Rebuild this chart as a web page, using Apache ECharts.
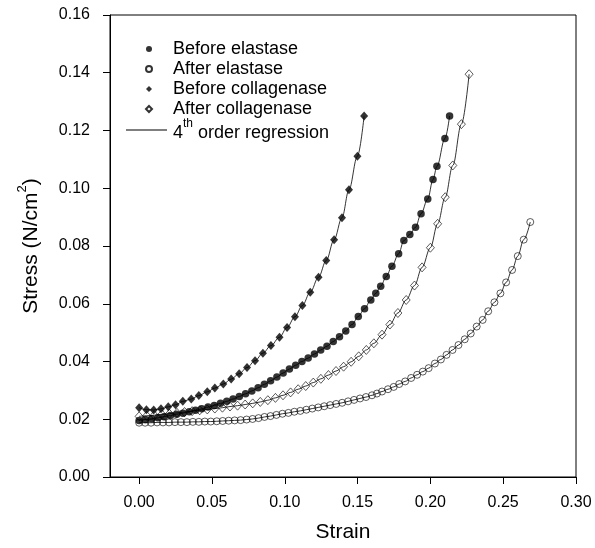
<!DOCTYPE html>
<html>
<head>
<meta charset="utf-8">
<script src="https://cdn.jsdelivr.net/npm/echarts@6/dist/echarts.min.js"></script>
<style>html,body{margin:0;padding:0;background:#fff}#c{width:595px;height:548px}</style>
</head>
<body>
<div id="c"></div>
<script>
// Strain / stress readings
const beforeElastase = [
[0.0000,0.0196],[0.0043,0.0199],[0.0086,0.0202],[0.0129,0.0205],[0.0172,0.0209],[0.0215,0.0213],
[0.0258,0.0217],[0.0301,0.0221],[0.0344,0.0226],[0.0387,0.0231],[0.0430,0.0236],[0.0473,0.0242],
[0.0516,0.0248],[0.0559,0.0255],[0.0602,0.0262],[0.0645,0.0270],[0.0688,0.0279],[0.0731,0.0288],
[0.0774,0.0298],[0.0817,0.0309],[0.0860,0.0321],[0.0903,0.0333],[0.0946,0.0346],[0.0989,0.0360],
[0.1032,0.0374],[0.1075,0.0387],[0.1118,0.0400],[0.1161,0.0412],[0.1204,0.0426],[0.1247,0.0440],
[0.1290,0.0453],[0.1333,0.0469],[0.1376,0.0486],[0.1419,0.0506],[0.1462,0.0528],[0.1505,0.0556],
[0.1548,0.0583],[0.1591,0.0613],[0.1625,0.0636],[0.1659,0.0661],[0.1697,0.0694],[0.1736,0.0730],
[0.1782,0.0773],[0.1818,0.0819],[0.1859,0.0840],[0.1898,0.0865],[0.1936,0.0912],[0.1982,0.0963],
[0.2018,0.1030],[0.2045,0.1076],[0.2100,0.1172],[0.2132,0.1250]
];
const afterElastase = [
[0.0000,0.0188],[0.0041,0.0188],[0.0082,0.0188],[0.0123,0.0189],[0.0164,0.0189],[0.0205,0.0189],
[0.0246,0.0190],[0.0287,0.0190],[0.0328,0.0190],[0.0369,0.0191],[0.0410,0.0191],[0.0451,0.0192],
[0.0492,0.0192],[0.0533,0.0193],[0.0574,0.0194],[0.0615,0.0195],[0.0656,0.0196],[0.0697,0.0197],
[0.0738,0.0199],[0.0779,0.0201],[0.0820,0.0204],[0.0861,0.0208],[0.0902,0.0211],[0.0943,0.0215],
[0.0984,0.0219],[0.1025,0.0222],[0.1066,0.0226],[0.1107,0.0229],[0.1148,0.0233],[0.1189,0.0237],
[0.1230,0.0241],[0.1271,0.0245],[0.1312,0.0249],[0.1353,0.0253],[0.1394,0.0257],[0.1435,0.0262],
[0.1476,0.0267],[0.1517,0.0272],[0.1558,0.0277],[0.1599,0.0283],[0.1633,0.0289],[0.1668,0.0296],
[0.1709,0.0304],[0.1748,0.0312],[0.1786,0.0322],[0.1827,0.0331],[0.1868,0.0343],[0.1909,0.0354],
[0.1948,0.0365],[0.1988,0.0377],[0.2031,0.0393],[0.2072,0.0407],[0.2111,0.0423],[0.2152,0.0440],
[0.2193,0.0457],[0.2236,0.0477],[0.2277,0.0497],[0.2318,0.0521],[0.2359,0.0544],[0.2397,0.0574],
[0.2440,0.0605],[0.2481,0.0636],[0.2520,0.0674],[0.2561,0.0717],[0.2600,0.0765],[0.2641,0.0822],
[0.2686,0.0883]
];
const beforeCollagenase = [
[0.0000,0.0240],[0.0050,0.0233],[0.0100,0.0232],[0.0150,0.0236],[0.0200,0.0243],[0.0250,0.0250],
[0.0300,0.0262],[0.0358,0.0270],[0.0410,0.0282],[0.0468,0.0295],[0.0520,0.0308],[0.0578,0.0322],
[0.0632,0.0339],[0.0687,0.0358],[0.0741,0.0379],[0.0796,0.0403],[0.0850,0.0429],[0.0905,0.0455],
[0.0964,0.0484],[0.1016,0.0518],[0.1070,0.0555],[0.1121,0.0594],[0.1175,0.0640],[0.1232,0.0692],
[0.1285,0.0750],[0.1339,0.0822],[0.1393,0.0898],[0.1441,0.0995],[0.1499,0.1111],[0.1545,0.1250]
];
const afterCollagenase = [
[0.0000,0.0210],[0.0052,0.0212],[0.0104,0.0214],[0.0156,0.0217],[0.0208,0.0219],[0.0260,0.0222],
[0.0312,0.0225],[0.0364,0.0228],[0.0416,0.0231],[0.0468,0.0234],[0.0520,0.0237],[0.0572,0.0240],
[0.0624,0.0244],[0.0676,0.0247],[0.0728,0.0251],[0.0780,0.0255],[0.0832,0.0260],[0.0884,0.0266],
[0.0936,0.0274],[0.0988,0.0283],[0.1040,0.0293],[0.1092,0.0304],[0.1144,0.0315],[0.1196,0.0327],
[0.1248,0.0340],[0.1300,0.0353],[0.1352,0.0367],[0.1404,0.0382],[0.1456,0.0399],[0.1508,0.0418],
[0.1560,0.0440],[0.1612,0.0463],[0.1668,0.0493],[0.1722,0.0528],[0.1777,0.0568],[0.1834,0.0613],
[0.1891,0.0663],[0.1943,0.0726],[0.2000,0.0794],[0.2050,0.0877],[0.2102,0.0969],[0.2154,0.1079],
[0.2213,0.1222],[0.2266,0.1395]
];
const xTicks = [0, 0.05, 0.10, 0.15, 0.20, 0.25, 0.30];
const yTicks = [0, 0.02, 0.04, 0.06, 0.08, 0.10, 0.12, 0.14, 0.16];
const seriesNames = ['Before elastase', 'After elastase', 'Before collagenase', 'After collagenase'];
const regressionName = '4th order regression';

const FONT = 'Liberation Sans, Arial, sans-serif';
const chart = echarts.init(document.getElementById('c'), null, {renderer: 'canvas'});

function regLine(data) {
  return {
    type: 'line', name: regressionName, data: data, symbol: 'none', smooth: 0.35,
    smoothMonotone: 'x', silent: true, z: 1, color: '#000',
    itemStyle: {color: '#000'},
    lineStyle: {color: '#000', width: 0.8}
  };
}
function marks(name, data, symbol, size, filled) {
  return {
    type: 'scatter', name: name, data: data, symbol: symbol, symbolSize: size, z: 3,
    itemStyle: filled ? {color: '#000', borderColor: '#000', borderWidth: 0}
                      : {color: 'rgba(255,255,255,0)', borderColor: '#000', borderWidth: 0.8}
  };
}

chart.setOption({
  animation: false,
  backgroundColor: '#fff',
  textStyle: {fontFamily: FONT, color: '#000'},
  grid: {left: 110, right: 19, top: 15, bottom: 71, show: true, borderColor: '#000', borderWidth: 1},
  xAxis: {
    type: 'value', min: -0.02, max: 0.30,
    name: 'Strain', nameLocation: 'middle', nameGap: 45,
    nameTextStyle: {fontSize: 21, fontFamily: FONT, color: '#000'},
    axisLine: {show: true, onZero: false, lineStyle: {color: '#000', width: 1}},
    axisTick: {show: true, inside: false, length: 7, customValues: xTicks, lineStyle: {color: '#000'}},
    axisLabel: {show: true, customValues: xTicks, margin: 18, fontSize: 16, fontFamily: FONT, color: '#000',
      formatter: v => v.toFixed(2)},
    splitLine: {show: false}
  },
  yAxis: {
    type: 'value', min: 0, max: 0.16, interval: 0.02,
    name: '{a|Stress (N/cm}{s|2}{a|)}', nameLocation: 'middle', nameGap: 68, nameRotate: 90,
    nameTextStyle: {fontSize: 21, fontFamily: FONT, color: '#000',
      rich: {a: {fontSize: 21, fontFamily: FONT, color: '#000', verticalAlign: 'bottom', lineHeight: 26},
             s: {fontSize: 13, fontFamily: FONT, color: '#000', verticalAlign: 'top', lineHeight: 13}}},
    axisLine: {show: true, onZero: false, lineStyle: {color: '#000', width: 1}},
    axisTick: {show: true, inside: false, length: 7, customValues: yTicks, lineStyle: {color: '#000'}},
    axisLabel: {show: true, customValues: yTicks, margin: 20, fontSize: 16, fontFamily: FONT, color: '#000',
      formatter: v => v.toFixed(2)},
    splitLine: {show: false}
  },
  legend: [
    {
      data: seriesNames, orient: 'vertical', left: 140, top: 34, itemWidth: 6, itemHeight: 6,
      itemGap: 0, selectedMode: false,
      textStyle: {fontSize: 18, fontFamily: FONT, color: '#000', lineHeight: 20, padding: [0, 0, 0, 16]}
    },
    {
      data: [{name: regressionName, icon: 'rect', itemStyle: {color: '#000'}}],
      orient: 'vertical', left: 121, top: 113, itemWidth: 41, itemHeight: 1,
      selectedMode: false,
      formatter: () => '{b|4}{s|th}{b| order regression}',
      textStyle: {fontSize: 18, fontFamily: FONT, color: '#000', padding: [0, 0, 0, 1],
        rich: {b: {fontSize: 18, fontFamily: FONT, color: '#000', verticalAlign: 'bottom', lineHeight: 24},
               s: {fontSize: 12, fontFamily: FONT, color: '#000', verticalAlign: 'top', lineHeight: 12}}}
    }
  ],
  series: [
    regLine(beforeElastase), regLine(afterElastase), regLine(beforeCollagenase), regLine(afterCollagenase),
    marks(seriesNames[0], beforeElastase, 'circle', 7.5, true),
    marks(seriesNames[1], afterElastase, 'circle', 7, false),
    marks(seriesNames[2], beforeCollagenase, 'diamond', [8, 9], true),
    marks(seriesNames[3], afterCollagenase, 'diamond', [8, 9], false)
  ]
});
</script>
</body>
</html>
